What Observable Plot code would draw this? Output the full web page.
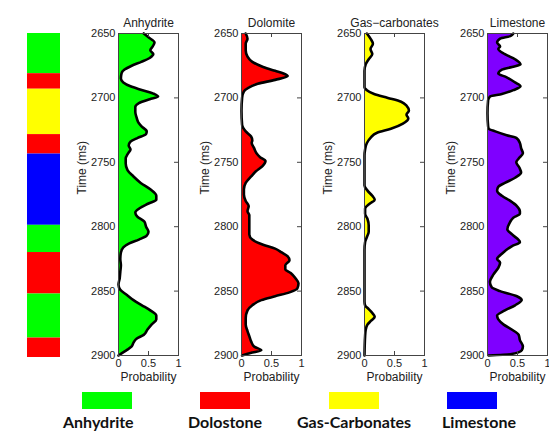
<!DOCTYPE html>
<html><head><meta charset="utf-8">
<script src="https://cdn.jsdelivr.net/npm/d3@7"></script>
<script src="https://cdn.jsdelivr.net/npm/@observablehq/plot@0.6"></script>
<style>
body{margin:0;background:#fff;}
#chart{position:relative;width:549px;height:432px;overflow:hidden;font-family:"Liberation Sans",Arial,sans-serif;}
#chart svg{position:absolute;top:0;background:transparent;overflow:visible;}
.lg-sw{position:absolute;top:392px;height:17px;width:50px;}
.lg-tx{position:absolute;top:414px;line-height:16px;font-family:Lato,sans-serif;font-weight:bold;font-size:16px;color:#111;white-space:nowrap;}
</style></head><body><div id="chart"></div>
<script>
// ---- data ----
const timeTicks = [2650, 2700, 2750, 2800, 2850, 2900];
const probTicks = [0, 0.5, 1];
const panelTitles = ["Anhydrite", "Dolomite", "Gas\u2212carbonates", "Limestone"];
const panelColors = ["#00ff00", "#ff0000", "#ffff00", "#7f00ff"];

const anhydriteTime = [2650,2653,2657,2660,2663,2666,2669,2672,2675,2678,2681,2685,2688,2691,2694,2697,2699,2701,2704,2707,2711,2715,2719,2722,2726,2728,2731,2734,2737,2740,2743,2747,2751,2756,2761,2766,2771,2776,2779,2782,2786,2789,2792,2796,2800,2804,2807,2810,2813,2816,2820,2825,2830,2835,2840,2845,2849,2853,2857,2861,2865,2869,2872,2876,2880,2884,2887,2890,2893,2896,2899,2900];
const anhydriteProb = [0.42,0.50,0.60,0.57,0.53,0.58,0.52,0.38,0.22,0.10,0.05,0.04,0.08,0.20,0.40,0.60,0.66,0.52,0.34,0.28,0.28,0.30,0.33,0.38,0.47,0.46,0.32,0.20,0.17,0.20,0.16,0.12,0.12,0.15,0.25,0.37,0.53,0.63,0.63,0.50,0.34,0.28,0.31,0.43,0.46,0.50,0.47,0.34,0.18,0.08,0.04,0.03,0.04,0.03,0.02,0.00,0.03,0.14,0.25,0.39,0.53,0.63,0.63,0.55,0.48,0.42,0.30,0.25,0.22,0.13,0.03,0.00];

const dolomiteTime = [2650,2654,2658,2663,2668,2672,2676,2679,2681,2683,2686,2689,2692,2695,2700,2710,2721,2726,2730,2733,2735,2739,2743,2746,2749,2753,2757,2761,2766,2771,2775,2780,2784,2788,2791,2796,2800,2806,2810,2814,2817,2820,2823,2826,2830,2833,2836,2840,2844,2848,2851,2854,2857,2861,2865,2871,2876,2881,2885,2889,2893,2896,2898,2900];
const dolomiteProb = [0.07,0.10,0.07,0.07,0.10,0.18,0.36,0.56,0.70,0.77,0.56,0.27,0.12,0.04,0.01,0.00,0.01,0.07,0.16,0.18,0.17,0.21,0.25,0.31,0.40,0.35,0.24,0.16,0.07,0.04,0.04,0.07,0.12,0.10,0.13,0.13,0.13,0.13,0.18,0.36,0.56,0.67,0.77,0.80,0.73,0.73,0.82,0.90,0.95,0.93,0.80,0.56,0.33,0.18,0.10,0.07,0.07,0.10,0.13,0.16,0.21,0.33,0.15,0.01];

const gasTime = [2650,2654,2658,2662,2666,2670,2674,2679,2692,2694,2697,2700,2703,2706,2710,2713,2716,2720,2724,2727,2731,2735,2740,2745,2768,2772,2776,2779,2782,2786,2790,2794,2799,2804,2808,2812,2818,2858,2861,2864,2867,2870,2873,2876,2880,2885,2900];
const gasProb = [0.04,0.10,0.14,0.10,0.13,0.07,0.02,0.00,0.00,0.04,0.16,0.39,0.61,0.70,0.74,0.70,0.73,0.64,0.44,0.21,0.10,0.04,0.01,0.00,0.00,0.05,0.13,0.17,0.09,0.01,0.01,0.05,0.07,0.07,0.04,0.01,0.00,0.00,0.01,0.07,0.13,0.17,0.11,0.05,0.02,0.01,0.00];

const limestoneTime = [2650,2652,2654,2657,2660,2662,2666,2670,2674,2676,2678,2681,2684,2688,2691,2694,2697,2699,2702,2712,2722,2724,2726,2729,2731,2735,2739,2743,2747,2750,2754,2758,2762,2766,2769,2772,2776,2780,2784,2788,2790,2793,2797,2802,2806,2812,2815,2821,2825,2828,2832,2837,2843,2847,2850,2854,2857,2861,2865,2869,2872,2876,2880,2884,2888,2893,2896,2899,2900];
const limestoneProb = [0.43,0.38,0.21,0.16,0.21,0.18,0.29,0.46,0.55,0.41,0.24,0.18,0.32,0.46,0.55,0.43,0.24,0.04,0.01,0.00,0.01,0.02,0.13,0.32,0.48,0.54,0.56,0.59,0.52,0.48,0.53,0.56,0.46,0.29,0.18,0.16,0.24,0.38,0.49,0.54,0.54,0.43,0.37,0.33,0.41,0.54,0.41,0.24,0.16,0.21,0.18,0.10,0.04,0.07,0.21,0.49,0.57,0.46,0.29,0.16,0.18,0.27,0.41,0.52,0.54,0.59,0.57,0.38,0.02];

const stripTop    = [2650, 2681, 2693, 2728, 2743, 2798, 2819, 2851, 2885];
const stripBottom = [2681, 2693, 2728, 2743, 2798, 2819, 2851, 2885, 2900];
const stripLith   = ["Anhydrite","Dolostone","Gas-Carbonates","Dolostone","Limestone","Anhydrite","Dolostone","Anhydrite","Dolostone"];

const legendLabels = ["Anhydrite", "Dolostone", "Gas-Carbonates", "Limestone"];
const legendColors = ["#00ff00", "#ff0000", "#ffff00", "#0000ff"];

// ---- layout ----
const chart = document.getElementById("chart");
const panelLefts = [118, 241, 364, 487];
const swatchLefts = [82, 200, 329, 447];
const labelLefts = [63, 188, 297, 442];

function panel(time, prob, title, color, left) {
  const data = time.map((t, i) => ({t, p: prob[i]}));
  const ml = 60, mr = 8, mt = 33, mb = 40, w = 60, h = 322;
  const svg = Plot.plot({
    width: ml + w + mr, height: mt + h + mb,
    marginLeft: ml, marginRight: mr, marginTop: mt, marginBottom: mb,
    style: {background: "transparent", fontFamily: "Liberation Sans, Arial, sans-serif", fontSize: "11px", color: "#222", overflow: "visible"},
    x: {domain: [0, 1]},
    y: {domain: [2650, 2900], reverse: true},
    marks: [
      Plot.areaX(data, {y: "t", x: "p", fill: color, curve: "monotone-y"}),
      Plot.lineX(data, {y: "t", x: "p", stroke: "#000", strokeWidth: 2.6, curve: "monotone-y"}),
      Plot.frame({stroke: "#444"}),
      Plot.tickY(timeTicks, {y: d => d, insetLeft: w - 4, stroke: "#444"}),
      Plot.tickX([0.5], {x: d => d, insetBottom: h - 4, stroke: "#444"}),
      Plot.tickX([0.5], {x: d => d, insetTop: h - 4, stroke: "#444"}),
      Plot.axisY({ticks: timeTicks, tickSize: 0, tickPadding: 3, tickFormat: d => String(d), label: null}),
      Plot.axisX({ticks: probTicks, tickSize: 0, tickPadding: 4, tickFormat: d => String(d), label: null}),
      Plot.text([title], {frameAnchor: "top", dy: -15, fontSize: 12}),
      Plot.text(["Probability"], {frameAnchor: "bottom", dy: 25, fontSize: 12}),
      Plot.text(["Time (ms)"], {frameAnchor: "left", dx: -36, rotate: -90, fontSize: 12})
    ]
  });
  svg.style.left = (left - ml) + "px";
  chart.appendChild(svg);
}

// lithology strip
const stripData = stripTop.map((t, i) => ({t1: t, t2: stripBottom[i], lith: stripLith[i]}));
const strip = Plot.plot({
  width: 60, height: 33 + 324 + 10,
  marginLeft: 27, marginRight: 0, marginTop: 33, marginBottom: 10,
  style: {background: "transparent"},
  x: {domain: [0, 1], axis: null},
  y: {domain: [2650, 2900], reverse: true, axis: null},
  color: {domain: legendLabels, range: legendColors},
  marks: [
    Plot.rect(stripData, {x1: d => 0, x2: d => 1, y1: "t1", y2: "t2", fill: "lith"})
  ]
});
strip.style.left = "0px";
chart.appendChild(strip);

const series = [
  [anhydriteTime, anhydriteProb],
  [dolomiteTime, dolomiteProb],
  [gasTime, gasProb],
  [limestoneTime, limestoneProb]
];
series.forEach(([t, p], i) => panel(t, p, panelTitles[i], panelColors[i], panelLefts[i]));

// legend
legendLabels.forEach((lab, i) => {
  const sw = document.createElement("div");
  sw.className = "lg-sw";
  sw.style.left = swatchLefts[i] + "px";
  sw.style.background = legendColors[i];
  chart.appendChild(sw);
  const tx = document.createElement("div");
  tx.className = "lg-tx";
  tx.style.left = labelLefts[i] + "px";
  tx.textContent = lab;
  chart.appendChild(tx);
});
</script></body></html>
